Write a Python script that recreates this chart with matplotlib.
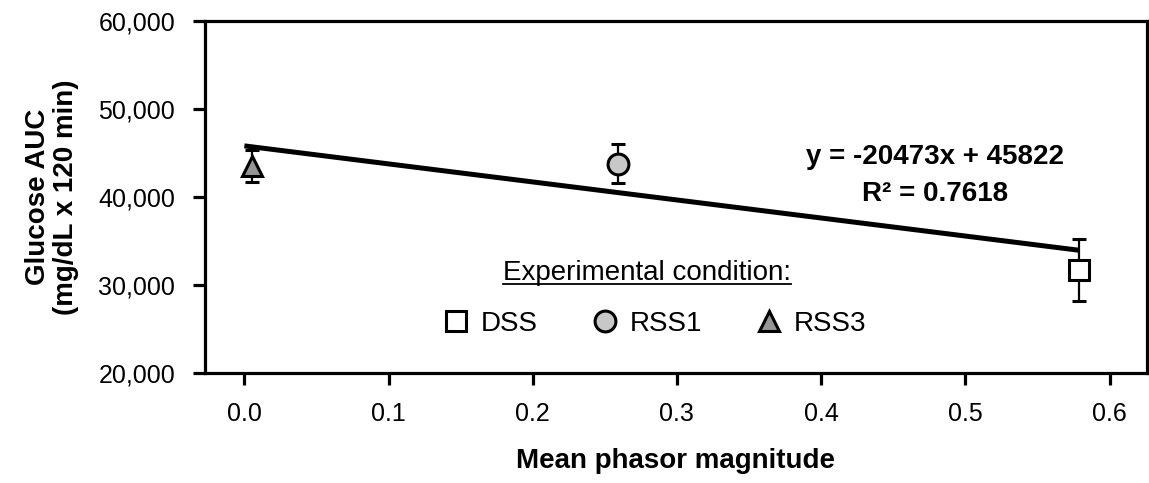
import numpy as np
from matplotlib import pyplot as plt
from matplotlib.lines import Line2D
from matplotlib.ticker import FuncFormatter

plt.rcParams["font.family"] = ["Liberation Sans", "DejaVu Sans"]

conditions = ["DSS", "RSS1", "RSS3"]
phasor = [0.579, 0.259, 0.005]
auc_mean = [31700, 43800, 43550]
auc_err = [3500, 2200, 1850]

slope = -20473
intercept = 45822
r_squared = 0.7618

fills = {"DSS": "#ffffff", "RSS1": "#c8c8c8", "RSS3": "#969696"}
markers = {"DSS": "s", "RSS1": "o", "RSS3": "^"}

fig = plt.figure(figsize=(11.49, 4.83), dpi=100)
ax = fig.add_axes([205 / 1149, 1 - 373.3 / 483, (1147 - 205) / 1149, (373.3 - 21) / 483])

for name, x, y, e in zip(conditions, phasor, auc_mean, auc_err):
    ax.errorbar(x, y, yerr=e, fmt=markers[name], color="black",
                markerfacecolor=fills[name], markeredgecolor="black",
                markersize=15, markeredgewidth=2.2, elinewidth=1.6,
                capsize=5, capthick=1.6, zorder=3)

# fitted trend line from the printed equation
fit_x = np.array([0.0, max(phasor)])
ax.plot(fit_x, slope * fit_x + intercept, color="black", linewidth=3.6,
        solid_capstyle="butt", zorder=4)

ax.text(0.479, 44600, f"y = {slope}x + {intercept}", ha="center", va="center",
        fontsize=20, fontweight="bold")
ax.text(0.479, 40400, f"R\u00b2 = {r_squared}", ha="center", va="center",
        fontsize=20, fontweight="bold")

ax.set_xlim(-0.0273, 0.626)
ax.set_ylim(20000, 60000)
ax.set_xticks(np.arange(0, 0.61, 0.1))
ax.set_yticks(np.arange(20000, 60001, 10000))
ax.xaxis.set_major_formatter(FuncFormatter(lambda v, p: f"{v:.1f}"))
ax.yaxis.set_major_formatter(FuncFormatter(lambda v, p: f"{v:,.0f}"))

for side in ["left", "bottom", "top", "right"]:
    ax.spines[side].set_linewidth(2.3)
ax.tick_params(axis="both", direction="out", length=8.5, width=2.3,
               labelsize=18)
ax.tick_params(axis="x", pad=12)
ax.tick_params(axis="y", pad=13)

ax.set_xlabel("Mean phasor magnitude", fontsize=20, fontweight="bold",
              labelpad=16)
ax.set_ylabel("Glucose AUC\n(mg/dL x 120 min)", fontsize=20,
              fontweight="bold", labelpad=14, linespacing=1.1)

handles = [Line2D([], [], linestyle="none", marker=markers[n], markersize=15,
                  markerfacecolor=fills[n], markeredgecolor="black",
                  markeredgewidth=2.2) for n in conditions]
leg = ax.legend(handles, conditions, loc="center", bbox_to_anchor=(0.477, 0.141),
                ncol=3, frameon=False, fontsize=20, handlelength=1.0,
                handletextpad=0.4, columnspacing=1.9)

title = ax.text(0.469, 0.285, "Experimental condition:", transform=ax.transAxes,
                ha="center", va="center", fontsize=20)

fig.canvas.draw()
bb = title.get_window_extent().transformed(fig.transFigure.inverted())
fig.add_artist(Line2D([bb.x0, bb.x1], [bb.y0 + 0.004, bb.y0 + 0.004],
                      transform=fig.transFigure, color="black", linewidth=1.3))

fig.savefig("out.png", dpi=100)
